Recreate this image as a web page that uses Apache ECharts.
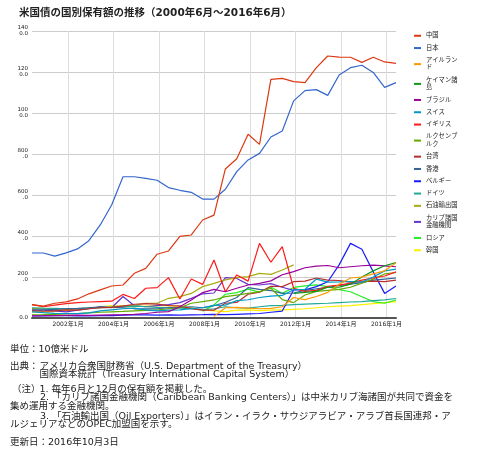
<!DOCTYPE html>
<html><head><meta charset="utf-8">
<script src="https://cdn.jsdelivr.net/npm/echarts@6/dist/echarts.min.js"></script>
<style>html,body{margin:0;padding:0;background:#fff}#c{width:480px;height:452px}</style>
</head><body><div id="c"></div>
<script>
// ---- data (10億米ドル), every June and December, 2000年6月〜2016年6月 ----
const periods = ['2000年6月','2000年12月','2001年6月','2001年12月','2002年6月','2002年12月','2003年6月','2003年12月',
 '2004年6月','2004年12月','2005年6月','2005年12月','2006年6月','2006年12月','2007年6月','2007年12月',
 '2008年6月','2008年12月','2009年6月','2009年12月','2010年6月','2010年12月','2011年6月','2011年12月',
 '2012年6月','2012年12月','2013年6月','2013年12月','2014年6月','2014年12月','2015年6月','2015年12月','2016年6月'];
const tickLabels = ['2002年1月','2004年1月','2006年1月','2008年1月','2010年1月','2012年1月','2014年1月','2016年1月'];

const china = [65,58,72,79,93,118,137,156,161,218,242,311,327,398,405,478,502,727,777,896,847,1164,1169,1153,1148,1221,1278,1273,1272,1247,1272,1249,1242];
const japan = [317,317,302,318,337,377,454,551,689,689,681,672,636,623,613,580,580,628,714,771,803,883,912,1059,1109,1114,1086,1185,1221,1233,1198,1125,1148];
const ireland = [null,null,null,null,null,null,null,null,null,null,null,null,null,null,null,null,8,50,52,48,45,47,55,100,90,105,125,165,195,200,215,230,270];
const cayman = [null,null,null,null,null,null,null,null,null,null,null,null,null,null,null,null,null,null,null,null,null,null,null,120,125,130,150,150,165,200,230,255,270];
const brazil = [10,11,12,13,14,13,14,15,16,18,22,28,31,55,88,124,140,128,145,161,169,181,211,226,245,253,256,245,250,255,258,254,250];
const swiss = [30,26,23,22,21,25,35,40,45,48,40,35,38,40,45,50,62,63,85,89,100,107,110,138,140,190,175,176,178,175,200,230,238];
const uk = [65,55,63,70,75,78,80,82,115,95,145,148,197,93,190,164,283,128,210,180,364,272,348,145,130,135,155,160,170,185,195,205,225];
const luxembourg = [15,16,18,20,22,25,28,30,32,35,37,39,45,50,72,80,88,104,112,120,128,145,90,75,112,130,135,140,150,170,190,215,222];
const taiwan = [35,33,35,40,38,45,50,52,58,67,70,68,60,59,46,38,38,72,76,116,126,155,153,177,180,195,185,183,175,177,180,177,185];
const hongkong = [38,40,42,45,47,50,55,52,50,45,45,45,50,52,55,50,60,77,100,148,140,134,120,122,135,142,150,158,165,172,185,190,195];
const belgium = [10,10,12,12,10,10,12,12,14,15,15,14,15,14,15,16,18,16,18,20,22,28,34,137,137,153,177,259,364,335,225,120,156];
const germany = [50,48,47,45,45,48,50,52,55,58,55,52,50,48,45,40,45,55,50,48,55,60,62,65,68,70,72,75,78,80,85,88,95];
const oil = [47,45,45,42,45,48,50,55,60,62,72,72,96,104,120,153,169,186,197,202,218,213,234,259,null,null,null,null,null,null,null,null,null];
const caribbean = [40,38,35,30,38,45,55,50,105,60,55,60,65,75,96,118,122,197,193,164,161,168,150,135,null,null,null,null,null,null,null,null,null];
const russia = [null,null,null,null,null,null,null,null,null,null,null,null,null,null,null,33,64,116,124,141,126,151,120,149,157,162,153,138,128,104,80,72,88];
const korea = [30,29,32,35,38,45,55,60,55,55,58,60,62,55,50,40,35,31,38,40,36,38,40,42,45,50,55,58,60,65,70,75,80];

const seriesNames = ['中国','日本','アイルランド','ケイマン諸島','ブラジル','スイス','イギリス','ルクセンブルク','台湾','香港','ベルギー','ドイツ','石油輸出国','カリブ諸国金融機関','ロシア','韓国'];
const seriesValues = [china,japan,ireland,cayman,brazil,swiss,uk,luxembourg,taiwan,hongkong,belgium,germany,oil,caribbean,russia,korea];
const seriesColors = ['#dc3912','#3366cc','#ff9900','#109618','#990099','#0099c6','#ff1a1a','#66aa00','#b82e2e','#316395','#1a1aff','#22aa99','#aaaa11','#6633cc','#22ee22','#ffee00'];

const FONT = 'DejaVu Sans, "Noto Sans CJK JP", sans-serif';

// monthly category axis from 2000年6月 to 2016年6月
const categories = [];
{ let y = 2000, m = 6; while (y < 2016 || (y === 2016 && m <= 6)) { categories.push(y + '年' + m + '月'); m++; if (m > 12) { m = 1; y++; } } }
const catIndex = {}; categories.forEach((c, i) => { catIndex[c] = i; });

const series = seriesNames.map((name, k) => ({
  type: 'line', name,
  data: periods.map((p, i) => seriesValues[k][i] == null ? null : [catIndex[p], seriesValues[k][i]]).filter(d => d),
  symbol: 'none', showSymbol: false,
  lineStyle: { width: 1.2, color: seriesColors[k] },
  itemStyle: { color: seriesColors[k] },
  z: 2 + (seriesNames.length - k) * 0.01
}));

const notes = [
  { t: '単位：10億米ドル', x: 10, y: 350 },
  { t: '出典：', x: 10, y: 366.7 },
  { t: 'アメリカ合衆国財務省（U.S. Department of the Treasury）', x: 39.5, y: 366.7 },
  { t: '国際資本統計（Treasury International Capital System）', x: 39.5, y: 374.3 },
  { t: '（注）', x: 12, y: 390 },
  { t: '1. 毎年6月と12月の保有額を掲載した。', x: 39.5, y: 390 },
  { t: '2. 「カリブ諸国金融機関（Caribbean Banking Centers）」は中米カリブ海諸国が共同で資金を', x: 40, y: 397.7 },
  { t: '集め運用する金融機関。', x: 10, y: 406.7 },
  { t: '3. 「石油輸出国（Oil Exporters）」はイラン・イラク・サウジアラビア・アラブ首長国連邦・ア', x: 40, y: 416.7 },
  { t: 'ルジェリアなどのOPEC加盟国を示す。', x: 10, y: 424.3 },
  { t: '更新日：2016年10月3日', x: 10, y: 442.3 }
];

const chart = echarts.init(document.getElementById('c'), null, { renderer: 'canvas' });
chart.setOption({
  animation: false,
  backgroundColor: '#fff',
  textStyle: { fontFamily: FONT },
  grid: { left: 32, right: 84, top: 31, bottom: 134 },
  legend: {
    orient: 'vertical', left: 409, top: 27,
    icon: 'rect', itemWidth: 7, itemHeight: 2, itemGap: 4.8,
    data: seriesNames,
    textStyle: { fontSize: 6.3, lineHeight: 7.5, width: 33, overflow: 'break', color: '#222', fontFamily: FONT }
  },
  xAxis: {
    type: 'category', data: categories, boundaryGap: false,
    axisTick: { show: false },
    axisLine: { lineStyle: { color: '#555', width: 2 } },
    axisLabel: { interval: (i, v) => tickLabels.includes(v), fontSize: 6, margin: 3, color: '#222', fontFamily: FONT },
    splitLine: { show: true, interval: (i, v) => tickLabels.includes(v), lineStyle: { color: '#ddd', width: 1 } }
  },
  yAxis: {
    type: 'value', min: 0, max: 1400, interval: 200,
    axisLine: { show: false }, axisTick: { show: false },
    axisLabel: {
      fontSize: 5.5, lineHeight: 6, margin: 4, color: '#222', fontFamily: FONT,
      formatter: v => { const s = v.toFixed(1); return s.length > 3 ? s.slice(0, 3) + '\n' + s.slice(3) : s; }
    },
    splitLine: { lineStyle: { color: '#ccc', width: 1 } }
  },
  graphic: [
    { type: 'text', x: 19, y: 13, style: { text: '米国債の国別保有額の推移（2000年6月～2016年6月）', font: 'bold 10.5px ' + FONT, fill: '#222', verticalAlign: 'middle' } }
  ].concat(notes.map(n => ({ type: 'text', x: n.x, y: n.y, style: { text: n.t, font: '9.5px ' + FONT, fill: '#222', verticalAlign: 'middle' } }))),
  series
});
</script></body></html>
